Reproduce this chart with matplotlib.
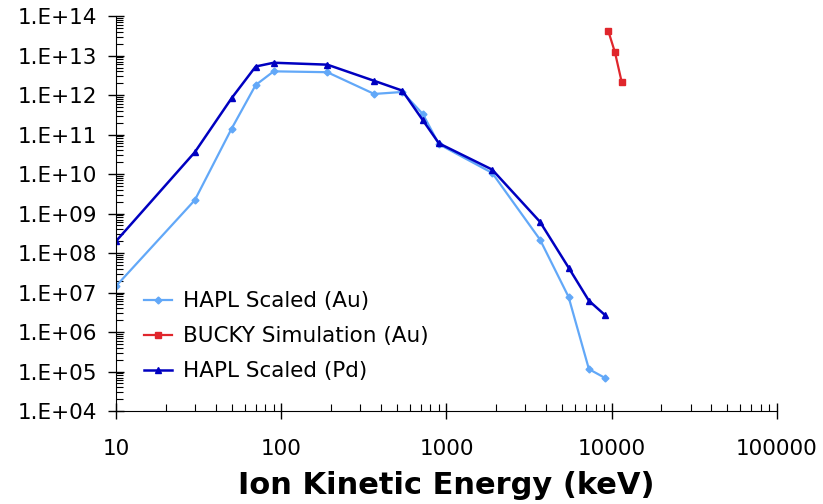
import numpy as np
import matplotlib
matplotlib.use("Agg")
import matplotlib.pyplot as plt
from matplotlib.ticker import LogLocator, FuncFormatter, NullFormatter

# HAPL scaled (Au)
au_energy = [10, 30, 50, 70, 90, 190, 365, 540, 720, 900, 1890, 3680, 5480, 7280, 9100]
au_flux = [1.46e7, 2.2e9, 1.4e11, 1.8e12, 4.0e12, 3.8e12, 1.07e12, 1.2e12,
           3.3e11, 5.7e10, 1.07e10, 2.2e8, 7.8e6, 1.15e5, 6.9e4]

# BUCKY simulation (Au)
bucky_energy = [9530, 10470, 11480]
bucky_flux = [4.25e13, 1.2e13, 2.2e12]

# HAPL scaled (Pd)
pd_energy = [10, 30, 50, 70, 90, 190, 365, 540, 720, 900, 1890, 3680, 5480, 7280, 9100]
pd_flux = [2.0e8, 3.6e10, 8.3e11, 5.3e12, 6.6e12, 5.9e12, 2.3e12, 1.3e12,
           2.3e11, 6.0e10, 1.3e10, 6.2e8, 4.3e7, 6.2e6, 2.7e6]

fig = plt.figure(figsize=(8.23, 5.04), dpi=100)
ax = fig.add_axes([0.141, 0.1845, 0.803, 0.7835])

ax.plot(au_energy, au_flux, color="#62a8f8", lw=1.6, marker="D", ms=3.5,
        label="HAPL Scaled (Au)")
ax.plot(bucky_energy, bucky_flux, color="#e0262c", lw=1.6, marker="s", ms=4.5,
        label="BUCKY Simulation (Au)")
ax.plot(pd_energy, pd_flux, color="#0000c0", lw=1.8, marker="^", ms=5,
        label="HAPL Scaled (Pd)")

ax.set_xscale("log")
ax.set_yscale("log")
ax.set_xlim(10, 100000)
ax.set_ylim(1e4, 1e14)

ax.spines["top"].set_visible(False)
ax.spines["right"].set_visible(False)

ax.xaxis.set_major_locator(LogLocator(base=10, numticks=10))
ax.yaxis.set_major_locator(LogLocator(base=10, numticks=20))
ax.xaxis.set_minor_locator(LogLocator(base=10, subs=np.arange(2, 10), numticks=20))
ax.yaxis.set_minor_locator(LogLocator(base=10, subs=np.arange(2, 10), numticks=20))
ax.xaxis.set_minor_formatter(NullFormatter())
ax.yaxis.set_minor_formatter(NullFormatter())
ax.xaxis.set_major_formatter(FuncFormatter(lambda v, p: f"{int(round(v))}"))
ax.yaxis.set_major_formatter(FuncFormatter(lambda v, p: f"1.E+{int(round(np.log10(v))):02d}"))

ax.tick_params(which="major", direction="inout", length=11, width=1, labelsize=15.5)
ax.tick_params(which="minor", direction="in", length=5, width=0.8)
ax.tick_params(axis="x", which="major", pad=15)
ax.tick_params(axis="y", which="major", pad=8)

ax.set_xlabel("Ion Kinetic Energy (keV)", fontsize=22, fontweight="bold", labelpad=8)

ax.legend(loc="upper left", bbox_to_anchor=(0.03, 0.325), frameon=False,
          fontsize=15.5, handlelength=1.3, handletextpad=0.5, labelspacing=0.7,
          borderaxespad=0)

fig.savefig("out.png", dpi=100)
